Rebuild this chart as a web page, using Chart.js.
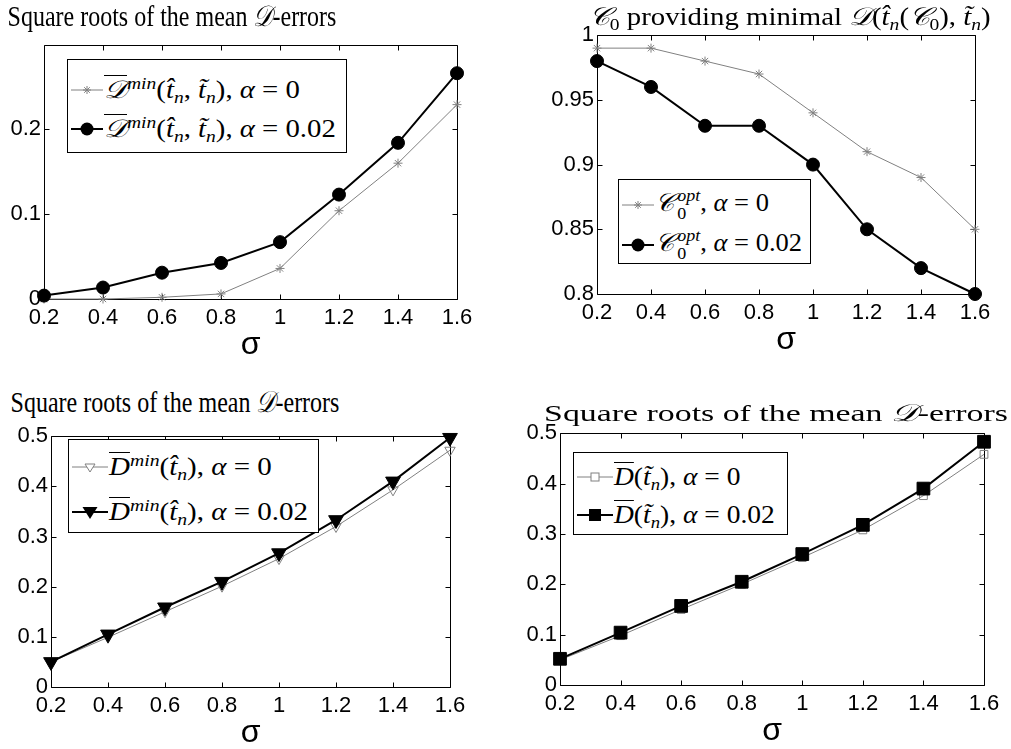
<!DOCTYPE html>
<html>
<head>
<meta charset="utf-8">
<script src="https://cdn.jsdelivr.net/npm/chart.js@4.4.1/dist/chart.umd.min.js"></script>
<style>
body { margin: 0; background: #fff; width: 1011px; height: 749px; position: relative; overflow: hidden; font-family: 'Liberation Serif', serif; }
canvas { position: absolute; }
.title { position: absolute; font-size: 24px; line-height: 1; white-space: nowrap; transform-origin: 50% 0; }
.lg { position: absolute; border: 1px solid #000; background: #fff; box-sizing: border-box; font-size: 25px; }
.row { position: absolute; left: 2px; height: 30px; display: flex; align-items: center; white-space: nowrap; }
.txt { display: inline-block; transform-origin: 0 50%; }
.lg i, .title i { font-style: italic; }
.ov { text-decoration: overline; text-decoration-thickness: 1px; }
sup, sub { font-size: 0.68em; font-style: italic; line-height: 0; }
sup { vertical-align: 0.55em; }
sub { vertical-align: -0.3em; }
.ss { display: inline-block; font-size: 0.68em; line-height: 1.05; vertical-align: -0.45em; margin-left: 3px; }
</style>
</head>
<body>
<canvas id="c1"></canvas>
<canvas id="c2"></canvas>
<canvas id="c3"></canvas>
<canvas id="c4"></canvas>

<div class="title" style="left:172px; top:2px; transform:translateX(-50%) scaleY(1.22);">Square roots of the mean <i>𝒟</i>-errors</div>
<div class="title" style="left:790px; top:4px; transform:translateX(-50%) scale(1.2,1.05);"><i>𝒞</i><sub style="font-style:normal">0</sub> providing minimal <i>𝒟</i>(<i>t̂</i><sub>n</sub>(<i>𝒞</i><sub style="font-style:normal">0</sub>), <i>t̃</i><sub>n</sub>)</div>
<div class="title" style="left:175px; top:387px; transform:translateX(-50%) scaleY(1.26);">Square roots of the mean <i>𝒟</i>-errors</div>
<div class="title" style="left:776px; top:401px; transform:translateX(-50%) scaleX(1.41);">Square roots of the mean <i>𝒟</i>-errors</div>

<div class="lg" id="lg1" style="left:67px; top:59px; width:280px; height:94px;"></div>
<div class="lg" id="lg2" style="left:618px; top:179px; width:193px; height:85px;"></div>
<div class="lg" id="lg3" style="left:68px; top:439px; width:251px; height:94px;"></div>
<div class="lg" id="lg4" style="left:573px; top:452px; width:215px; height:83px;"></div>

<script>
// sigma values shared by all four panels
const sigma = [0.2, 0.4, 0.6, 0.8, 1.0, 1.2, 1.4, 1.6];
const xTicks = [0.2, 0.4, 0.6, 0.8, 1, 1.2, 1.4, 1.6];

// top-left: square roots of the mean D-errors (D^min(t^, t~))
const dMinHatTilde0 = [0, 0, 0.002, 0.006, 0.036, 0.104, 0.160, 0.229];
const dMinHatTilde002 = [0.004, 0.0135, 0.031, 0.0425, 0.067, 0.123, 0.184, 0.266];
const yTicks1 = [0, 0.1, 0.2];

// top-right: optimal C0
const c0Opt0 = [0.99, 0.99, 0.98, 0.97, 0.94, 0.91, 0.89, 0.85];
const c0Opt002 = [0.98, 0.96, 0.93, 0.93, 0.90, 0.85, 0.82, 0.80];
const yTicks2 = [0.8, 0.85, 0.9, 0.95, 1];

// bottom-left: D^min(t^)
const dMinHat0 = [0.05, 0.099, 0.150, 0.201, 0.256, 0.320, 0.393, 0.472];
const dMinHat002 = [0.05, 0.105, 0.159, 0.210, 0.267, 0.333, 0.410, 0.497];

// bottom-right: D(t~)
const dTilde0 = [0.05, 0.098, 0.150, 0.200, 0.253, 0.308, 0.376, 0.458];
const dTilde002 = [0.052, 0.104, 0.157, 0.205, 0.260, 0.318, 0.390, 0.483];
const yTicks34 = [0, 0.1, 0.2, 0.3, 0.4, 0.5];

const GRAY = '#808080';
const padL = 70, padT = 16, padR = 30, axisH = 62;

// matlab-style box with inward ticks on all sides
const boxTicks = {
    id: 'boxTicks',
    beforeDatasetsDraw(chart) {
        const ctx = chart.ctx, a = chart.chartArea;
        const x = chart.scales.x, y = chart.scales.y;
        const l = Math.round(a.left) + 0.5, r = Math.round(a.right) + 0.5;
        const t = Math.round(a.top) + 0.5, b = Math.round(a.bottom) + 0.5;
        ctx.save();
        ctx.strokeStyle = '#000';
        ctx.lineWidth = 1;
        ctx.beginPath();
        ctx.rect(l, t, r - l, b - t);
        x.ticks.forEach(tk => {
            const px = Math.round(x.getPixelForValue(tk.value)) + 0.5;
            ctx.moveTo(px, b); ctx.lineTo(px, b - 5);
            ctx.moveTo(px, t); ctx.lineTo(px, t + 5);
        });
        y.ticks.forEach(tk => {
            const py = Math.round(y.getPixelForValue(tk.value)) + 0.5;
            ctx.moveTo(l, py); ctx.lineTo(l + 5, py);
            ctx.moveTo(r, py); ctx.lineTo(r - 5, py);
        });
        ctx.stroke();
        ctx.restore();
    }
};

function toPoints(values) {
    return sigma.map((s, i) => ({x: s, y: values[i]}));
}

// matlab prints 1 and 0.8, not 1.0 and 0.80
const plainLabel = v => String(Math.round(v * 100) / 100);

function makeChart(id, area, yMin, yMax, yTicks, datasets) {
    const cv = document.getElementById(id);
    const w = area[2] - area[0] + padL + padR;
    const h = area[3] - area[1] + padT + axisH;
    cv.width = w; cv.height = h;
    cv.style.width = w + 'px'; cv.style.height = h + 'px';
    cv.style.left = (area[0] - padL) + 'px';
    cv.style.top = (area[1] - padT) + 'px';

    const tickFont = {family: 'Liberation Sans', size: 22};
    return new Chart(cv, {
        type: 'line',
        data: {datasets: datasets},
        options: {
            responsive: false,
            animation: false,
            events: [],
            layout: {padding: {top: padT, right: padR, left: 0, bottom: 0}},
            plugins: {legend: {display: false}, tooltip: {enabled: false}},
            scales: {
                x: {
                    type: 'linear', min: 0.2, max: 1.6,
                    afterBuildTicks: s => { s.ticks = xTicks.map(v => ({value: v})); },
                    afterFit: s => { s.height = axisH; },
                    grid: {display: false, drawTicks: false},
                    border: {display: false},
                    ticks: {color: '#000', font: tickFont, padding: 6, maxRotation: 0, autoSkip: false, callback: plainLabel},
                    title: {display: true, text: 'σ', color: '#000', padding: 0,
                        font: {family: 'Liberation Sans', size: 32, lineHeight: 1}}
                },
                y: {
                    type: 'linear', min: yMin, max: yMax,
                    afterBuildTicks: s => { s.ticks = yTicks.map(v => ({value: v})); },
                    afterFit: s => { s.width = padL; },
                    grid: {display: false, drawTicks: false},
                    border: {display: false},
                    ticks: {color: '#000', font: tickFont, padding: 3, autoSkip: false, callback: plainLabel}
                }
            }
        },
        plugins: [boxTicks]
    });
}

function grayLine(values, style, radius, rot) {
    return {
        data: toPoints(values), order: 2, clip: false, tension: 0,
        borderColor: GRAY, borderWidth: 1,
        pointStyle: style, pointRadius: radius, pointRotation: rot || 0,
        pointBorderColor: GRAY, pointBackgroundColor: 'rgba(0,0,0,0)', pointBorderWidth: 1
    };
}

function blackLine(values, style, radius, rot) {
    return {
        data: toPoints(values), order: 1, clip: false, tension: 0,
        borderColor: '#000', borderWidth: 2,
        pointStyle: style, pointRadius: radius, pointRotation: rot || 0,
        pointBorderColor: '#000', pointBackgroundColor: '#000', pointBorderWidth: 1
    };
}

makeChart('c1', [44, 45, 457, 299], 0, 0.299, yTicks1, [
    grayLine(dMinHatTilde0, 'star', 4.5),
    blackLine(dMinHatTilde002, 'circle', 6.5)
]);
makeChart('c2', [597, 35, 975, 294], 0.8, 1, yTicks2, [
    grayLine(c0Opt0, 'star', 4.5),
    blackLine(c0Opt002, 'circle', 6.5)
]);
makeChart('c3', [51, 436, 450, 687], 0, 0.5, yTicks34, [
    grayLine(dMinHat0, 'triangle', 6, 180),
    blackLine(dMinHat002, 'triangle', 8.5, 180)
]);
makeChart('c4', [560, 433, 984, 685], 0, 0.5, yTicks34, [
    grayLine(dTilde0, 'rect', 5.5),
    blackLine(dTilde002, 'rect', 9)
]);

// legend swatches
function swatch(kind, black, w) {
    const c = black ? '#000' : GRAY, lw = black ? 2 : 1, m0 = w / 2;
    let m = '';
    if (kind === 'star') {
        m = `<path d="M${m0} 8v8M${m0 - 4} 12h8M${m0 - 2.8} 9.2l5.6 5.6M${m0 + 2.8} 9.2l-5.6 5.6" stroke="${c}" stroke-width="1"/>`;
    } else if (kind === 'circle') {
        m = `<circle cx="${m0}" cy="12" r="6.5" fill="${c}"/>`;
    } else if (kind === 'tri') {
        m = black ? `<path d="M${m0 - 7.5} 7h15l-7.5 12z" fill="#000"/>`
                  : `<path d="M${m0 - 5} 9h10l-5 8z" fill="#fff" stroke="${c}"/>`;
    } else {
        m = black ? `<rect x="${m0 - 6}" y="6" width="12" height="12" fill="#000"/>`
                  : `<rect x="${m0 - 4}" y="8" width="8" height="8" fill="#fff" stroke="${c}"/>`;
    }
    return `<svg width="${w}" height="24"><line x1="1" y1="12" x2="${w - 1}" y2="12" stroke="${c}" stroke-width="${lw}"/>${m}</svg>`;
}

function legend(id, kinds, tops, sw, sx, texts) {
    const el = document.getElementById(id);
    el.innerHTML = texts.map((t, i) =>
        `<div class="row" style="top:${tops[i]}px">${swatch(kinds[i], i === 1, sw)}<span class="txt" style="transform:scaleX(${sx})">${t}</span></div>`).join('');
}

const hatTilde = '(<i>t̂</i><sub>n</sub>, <i>t̃</i><sub>n</sub>)';
const cOpt = '<i>𝒞</i><span class="ss"><i>opt</i><br>0</span>';
legend('lg1', ['star', 'circle'], [15, 54], 34, 1.15, [
    `<span class="ov"><i>𝒟</i></span><sup>min</sup>${hatTilde}, <i>α</i> = 0`,
    `<span class="ov"><i>𝒟</i></span><sup>min</sup>${hatTilde}, <i>α</i> = 0.02`
]);
legend('lg2', ['star', 'circle'], [10, 50], 34, 1.06, [
    `${cOpt}, <i>α</i> = 0`,
    `${cOpt}, <i>α</i> = 0.02`
]);
legend('lg3', ['tri', 'tri'], [12, 57], 38, 1.16, [
    `<span class="ov"><i>D</i></span><sup>min</sup>(<i>t̂</i><sub>n</sub>), <i>α</i> = 0`,
    `<span class="ov"><i>D</i></span><sup>min</sup>(<i>t̂</i><sub>n</sub>), <i>α</i> = 0.02`
]);
legend('lg4', ['sq', 'sq'], [9, 47], 38, 1.1, [
    `<span class="ov"><i>D</i></span>(<i>t̃</i><sub>n</sub>), <i>α</i> = 0`,
    `<span class="ov"><i>D</i></span>(<i>t̃</i><sub>n</sub>), <i>α</i> = 0.02`
]);
</script>
</body>
</html>
